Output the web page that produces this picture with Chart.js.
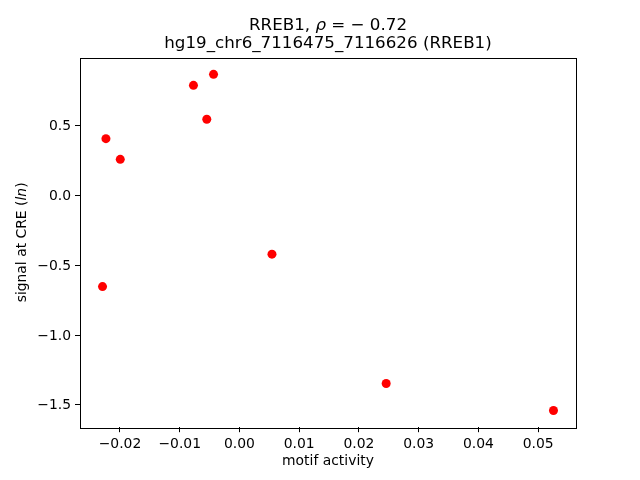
<!DOCTYPE html>
<html>
<head>
<meta charset="utf-8">
<script src="https://cdn.jsdelivr.net/npm/chart.js@4.4.1/dist/chart.umd.min.js"></script>
<style>
  body { margin: 0; background: #fff; }
  #wrap { width: 640px; height: 480px; }
</style>
</head>
<body>
<div id="wrap"><canvas id="chart" width="640" height="480"></canvas></div>
<script>
// motif activity vs signal at CRE
const motifActivity = [-0.02235, -0.01995, -0.0077, -0.00434, -0.00547, -0.02292, 0.00544, 0.02456, 0.05256];
const creSignal = [0.408, 0.260, 0.790, 0.869, 0.547, -0.652, -0.420, -1.347, -1.540];

const xTicks = [-0.02, -0.01, 0.0, 0.01, 0.02, 0.03, 0.04, 0.05];
const yTicks = [-1.5, -1.0, -0.5, 0.0, 0.5];
const xRange = [-0.02669, 0.05633];
const yRange = [-1.660, 0.989];

const FONT = "'DejaVu Sans', sans-serif";
const minus = (s) => s.replace("-", "\u2212");

const points = motifActivity.map((x, i) => ({ x: x, y: creSignal[i] }));

// frame + title + y label, drawn the way matplotlib lays them out
const decor = {
  id: "decor",
  afterDraw(chart) {
    const { ctx, chartArea: a } = chart;
    ctx.save();
    ctx.strokeStyle = "#000";
    ctx.lineWidth = 1;
    ctx.strokeRect(Math.round(a.left) + 0.5, Math.round(a.top) + 0.5,
      Math.round(a.right - a.left), Math.round(a.bottom - a.top));

    const cx = (a.left + a.right) / 2;
    ctx.fillStyle = "#000";
    ctx.textBaseline = "alphabetic";

    // line 1 with italic rho
    const parts = [
      ["RREB1, ", "16.7px " + FONT],
      ["\u03c1", "italic 16.7px " + FONT],
      [" = \u2212 0.72", "16.7px " + FONT],
    ];
    let w = 0;
    parts.forEach((p) => { ctx.font = p[1]; w += ctx.measureText(p[0]).width; });
    let x = cx - w / 2;
    ctx.textAlign = "left";
    parts.forEach((p) => {
      ctx.font = p[1];
      ctx.fillText(p[0], x, 29.5);
      x += ctx.measureText(p[0]).width;
    });

    ctx.font = "16.7px " + FONT;
    ctx.textAlign = "center";
    ctx.fillText("hg19_chr6_7116475_7116626 (RREB1)", cx, 48);

    // y label with italic ln
    const yParts = [
      ["signal at CRE (", "13.9px " + FONT],
      ["ln", "italic 13.9px " + FONT],
      [")", "13.9px " + FONT],
    ];
    let yw = 0;
    yParts.forEach((p) => { ctx.font = p[1]; yw += ctx.measureText(p[0]).width; });
    ctx.translate(25.5, (a.top + a.bottom) / 2);
    ctx.rotate(-Math.PI / 2);
    ctx.textAlign = "left";
    let yx = -yw / 2;
    yParts.forEach((p) => {
      ctx.font = p[1];
      ctx.fillText(p[0], yx, 0);
      yx += ctx.measureText(p[0]).width;
    });
    ctx.restore();
  },
};

new Chart(document.getElementById("chart"), {
  type: "scatter",
  data: {
    datasets: [{
      data: points,
      backgroundColor: "#ff0000",
      borderColor: "#ff0000",
      pointRadius: 4.5,
      pointHoverRadius: 4.5,
      borderWidth: 0,
    }],
  },
  options: {
    responsive: false,
    animation: false,
    events: [],
    layout: { padding: { top: 57.6, right: 64, left: 0, bottom: 0 } },
    plugins: { legend: { display: false }, tooltip: { enabled: false } },
    scales: {
      x: {
        type: "linear",
        min: xRange[0],
        max: xRange[1],
        afterBuildTicks: (s) => { s.ticks = xTicks.map((v) => ({ value: v })); },
        afterFit: (s) => { s.height = 52.8; },
        grid: { display: true, drawOnChartArea: false, drawTicks: true, tickLength: 5, color: "#000" },
        border: { display: false },
        ticks: {
          color: "#000",
          padding: 4,
          maxRotation: 0,
          font: { family: FONT, size: 13.9 },
          callback: (v) => minus(Number(v).toFixed(2)),
        },
        title: {
          display: true,
          text: "motif activity",
          color: "#000",
          font: { family: FONT, size: 13.9 },
          padding: { top: 0, bottom: 10 },
        },
      },
      y: {
        type: "linear",
        min: yRange[0],
        max: yRange[1],
        afterBuildTicks: (s) => { s.ticks = yTicks.map((v) => ({ value: v })); },
        afterFit: (s) => { s.width = 80; },
        grid: { display: true, drawOnChartArea: false, drawTicks: true, tickLength: 5, color: "#000" },
        border: { display: false },
        ticks: {
          color: "#000",
          padding: 4,
          labelOffset: 1,
          font: { family: FONT, size: 13.9 },
          callback: (v) => minus(Number(v).toFixed(1)),
        },
      },
    },
  },
  plugins: [decor],
});
</script>
</body>
</html>
